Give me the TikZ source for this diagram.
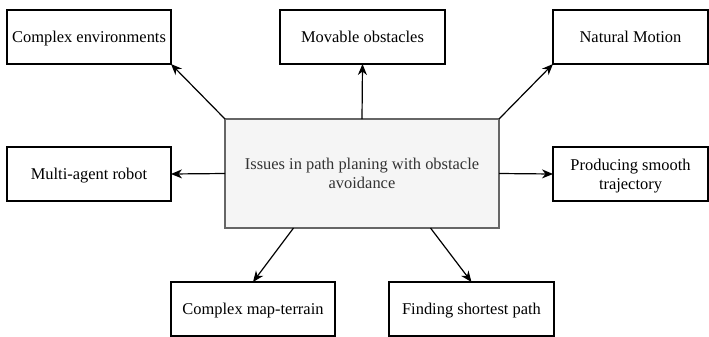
\documentclass[tikz,border=0pt]{standalone}
\usepackage{fontspec}
\setmainfont{Liberation Serif}
\usetikzlibrary{arrows.meta,calc}
\definecolor{hubfill}{HTML}{F5F5F5}
\definecolor{hubline}{HTML}{666666}
\definecolor{hubtext}{HTML}{333333}
\begin{document}
\begin{tikzpicture}[x=1bp,y=-1bp,
  box/.style={draw=black,line width=1.2bp,rectangle,inner sep=2bp,outer sep=0pt,
    align=center,font=\fontsize{16.5}{19}\selectfont,anchor=north west,text depth=0bp},
  hub/.style={box,draw=hubline,fill=hubfill,text=hubtext},
  link/.style={line width=1.2bp,-{Stealth[length=11bp,width=9bp,inset=3.5bp]}}]
\useasboundingbox (0,0) rectangle (709,336);
\clip (0,0) rectangle (709,336);
% central topic
\node[hub,minimum width=274bp,minimum height=109bp] (c) at (225,119)
  {Issues in path planing with obstacle\\avoidance};
% surrounding issues
\node[box,minimum width=164bp,minimum height=54bp] (ce) at (7,10) {Complex environments};
\node[box,minimum width=165bp,minimum height=54bp] (mo) at (280,10) {Movable obstacles};
\node[box,minimum width=155bp,minimum height=54bp] (nm) at (553,10) {Natural Motion};
\node[box,minimum width=164bp,minimum height=54bp] (ma) at (7,147) {Multi-agent robot};
\node[box,minimum width=155bp,minimum height=54bp] (ps) at (553,147) {Producing smooth\\trajectory};
\node[box,minimum width=164bp,minimum height=54bp] (cm) at (171,282) {Complex map-terrain};
\node[box,minimum width=165bp,minimum height=54bp] (fs) at (389,282) {Finding shortest path};
% connectors
\draw[link] (c.north west) -- (ce.south east);
\draw[link] (c.north) -- (mo.south);
\draw[link] (c.north east) -- (nm.south west);
\draw[link] (c.west) -- (ma.east);
\draw[link] (c.east) -- (ps.west);
\draw[link] ($(c.south west)!0.25!(c.south east)$) -- (cm.north);
\draw[link] ($(c.south west)!0.75!(c.south east)$) -- (fs.north);
\end{tikzpicture}
\end{document}
